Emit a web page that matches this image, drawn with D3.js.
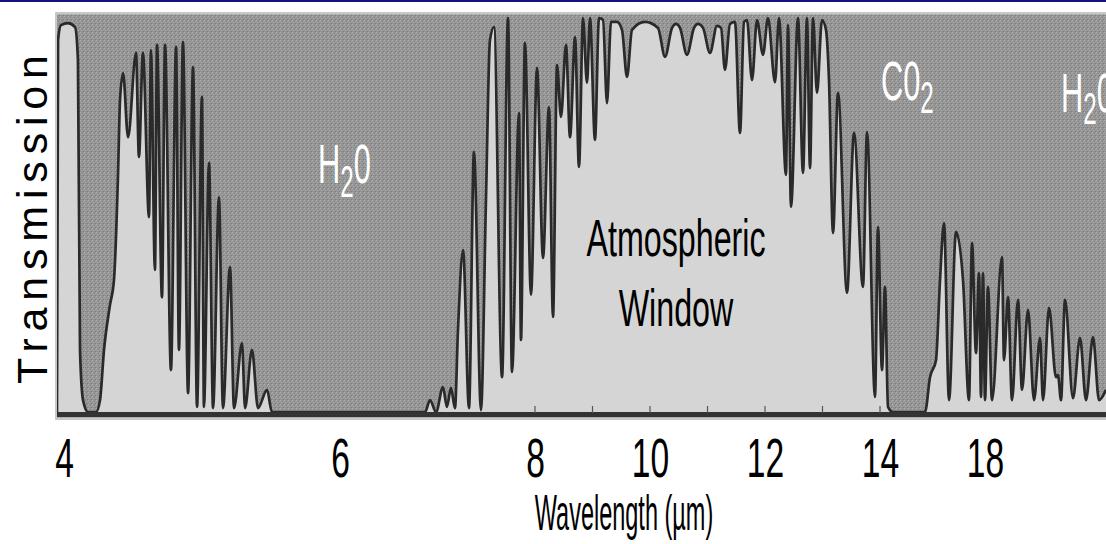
<!DOCTYPE html>
<html>
<head>
<meta charset="utf-8">
<script src="https://cdn.jsdelivr.net/npm/d3@7"></script>
<style>
  body { margin: 0; background: #fff; }
  svg { display: block; }
</style>
</head>
<body>
<div id="chart"></div>
<script>
// spectrum: wavelength (µm) and transmission (%)
const wavelength = [
  3.949, 3.957, 3.978, 4.029, 4.080, 4.101, 4.116, 4.138, 4.174, 4.232,
  4.261, 4.290, 4.333, 4.362, 4.391, 4.406, 4.428, 4.464, 4.522, 4.543,
  4.572, 4.616, 4.630, 4.659, 4.674, 4.710, 4.732, 4.775, 4.812, 4.833,
  4.862, 4.899, 4.935, 4.964, 5.000, 5.014, 5.051, 5.080, 5.123, 5.152,
  5.203, 5.232, 5.290, 5.312, 5.362, 5.406, 5.471, 5.507, 6.872, 6.923,
  6.985, 7.056, 7.097, 7.138, 7.179, 7.210, 7.262, 7.323, 7.374, 7.446,
  7.497, 7.538, 7.579, 7.662, 7.723, 7.764, 7.836, 7.856, 7.897, 7.959,
  8.035, 8.139, 8.243, 8.313, 8.383, 8.452, 8.539, 8.609, 8.696, 8.765,
  8.835, 8.904, 8.957, 9.043, 9.113, 9.183, 9.252, 9.322, 9.426, 9.513,
  9.600, 9.687, 9.913, 10.139, 10.261, 10.383, 10.452, 10.522, 10.643, 10.765,
  10.835, 10.922, 11.043, 11.165, 11.235, 11.304, 11.391, 11.478, 11.565, 11.635,
  11.687, 11.774, 11.861, 11.965, 12.052, 12.174, 12.243, 12.365, 12.400, 12.452,
  12.574, 12.661, 12.730, 12.783, 12.835, 12.904, 12.991, 13.061, 13.113, 13.183,
  13.270, 13.426, 13.548, 13.704, 13.774, 13.913, 13.965, 14.076, 14.190, 14.305,
  14.495, 15.714, 15.905, 16.133, 16.286, 16.438, 16.629, 16.895, 17.162, 17.390,
  17.505, 17.657, 17.771, 17.848, 17.924, 18.0, 18.114, 18.267, 18.648, 18.724,
  18.876, 19.029, 19.257, 19.410, 19.638, 19.867, 20.095, 20.210, 20.438, 20.705,
  20.781, 20.895, 21.048, 21.352, 21.619, 21.848, 22.114, 22.343, 22.610
];
const transmission = [
  0, 94.4, 98.2, 98.7, 97.7, 89.4, 16.2, 3.5, 0.5, 0.5,
  3.5, 16.2, 27.5, 33.8, 59.8, 79.3, 86.1, 69.9, 91.2, 64.9,
  91.2, 49.7, 91.9, 36.4, 93.2, 29.5, 93.2, 11.1, 92.7, 16.2,
  93.9, 5.3, 87.6, 1.8, 80.1, 1.8, 63.4, 1.5, 54.8, 1.5,
  37.1, 1.5, 17.9, 1.5, 16.2, 1.5, 6.1, 0.5, 0.5, 3.5,
  0.5, 6.8, 1.8, 6.6, 1.5, 21.2, 41.4, 1.5, 66.2, 1.0,
  54, 94.4, 97.7, 9.3, 100, 10.6, 76, 18.7, 93.7, 30.1,
  87.4, 39.4, 77.5, 24.5, 88.1, 75, 93.2, 69.9, 95.2, 62.4,
  100, 83.6, 100, 69.2, 100, 99.5, 78.5, 99, 99, 97,
  85.1, 97, 99, 97.5, 90.2, 97.5, 98.5, 97.5, 90.7, 97.5,
  98.5, 97.5, 91.2, 98, 97.5, 86.9, 98.5, 99, 71, 99,
  99.5, 84.3, 99.5, 90.7, 100, 83.8, 100, 60.4, 98.2, 52.3,
  100, 60.9, 100, 62.1, 100, 81.1, 99.5, 97, 84.3, 45.7,
  81.1, 30.6, 71, 32.1, 71.2, 4.3, 47.2, 11.1, 32.1, 1.8,
  0.5, 0.5, 9.3, 13.6, 33.8, 48.2, 3.5, 46, 33.8, 3.5,
  43.2, 15.4, 35.6, 4.3, 35.6, 3.5, 32.1, 3.5, 39.6, 13.6,
  29.5, 3.5, 28.8, 6.1, 26.3, 3.5, 19.2, 3.5, 26.8, 9.3,
  9.8, 3.5, 28.8, 4, 19.2, 3.5, 19.4, 3.5, 6.1
];
const tickValues = [4, 6, 8, 10, 12, 14, 18];
const minorTicks = [8, 9, 10, 11, 12, 13, 14];

const data = wavelength.map((w, i) => ({ w: w, t: transmission[i] }));

const width = 1106, height = 544;
const font = "'Liberation Sans', Arial, sans-serif";

const svg = d3.select("#chart")
  .append("svg")
  .attr("width", width)
  .attr("height", height);

// the wavelength axis of the original is not linear, so a piecewise scale
const x = d3.scaleLinear()
  .domain(tickValues)
  .range([64, 340, 535, 650, 765, 880, 985]);

const y = d3.scaleLinear()
  .domain([0, 100])
  .range([414, 18]);

// grainy halftone texture for the absorbed part
const defs = svg.append("defs");
const grain = defs.append("pattern")
  .attr("id", "grain")
  .attr("patternUnits", "userSpaceOnUse")
  .attr("width", 4)
  .attr("height", 4);
grain.append("rect").attr("width", 4).attr("height", 4).attr("fill", "#969696");
[[0, 0, "#b0b0b0"], [2, 1, "#7e7e7e"], [1, 2, "#a8a8a8"], [3, 3, "#7a7a7a"], [3, 1, "#a4a4a4"], [1, 3, "#8a8a8a"], [2, 2, "#a0a0a0"]]
  .forEach(p => grain.append("rect")
    .attr("x", p[0]).attr("y", p[1])
    .attr("width", 1).attr("height", 1)
    .attr("fill", p[2]));

defs.append("clipPath").attr("id", "plotClip")
  .append("rect")
  .attr("x", 57).attr("y", 14)
  .attr("width", width - 57).attr("height", 404);

// navy rule across the top
svg.append("rect")
  .attr("x", 0).attr("y", 0)
  .attr("width", width).attr("height", 2)
  .attr("fill", "#14147e");

// plot frame + background
svg.append("rect")
  .attr("x", 55).attr("y", 12)
  .attr("width", width - 55).attr("height", 408)
  .attr("fill", "#c8c8c8");
svg.append("rect")
  .attr("x", 57).attr("y", 14.5)
  .attr("width", width - 57).attr("height", 403)
  .attr("fill", "url(#grain)");

const plot = svg.append("g").attr("clip-path", "url(#plotClip)");

const area = d3.area()
  .x(d => x(d.w))
  .y0(y(0))
  .y1(d => y(d.t))
  .curve(d3.curveMonotoneX);

const line = d3.line()
  .x(d => x(d.w))
  .y(d => y(d.t))
  .curve(d3.curveMonotoneX);

plot.append("path")
  .datum(data)
  .attr("d", area)
  .attr("fill", "#d5d5d5");

plot.append("path")
  .datum(data)
  .attr("d", line)
  .attr("fill", "none")
  .attr("stroke", "#2a2a2a")
  .attr("stroke-width", 2.7)
  .attr("stroke-linejoin", "round");

// dark baseline
plot.append("line")
  .attr("x1", 57).attr("x2", width)
  .attr("y1", 414.5).attr("y2", 414.5)
  .attr("stroke", "#333")
  .attr("stroke-width", 5);

// small ticks on the baseline
plot.selectAll("line.minor")
  .data(minorTicks)
  .join("line")
  .attr("class", "minor")
  .attr("x1", d => x(d)).attr("x2", d => x(d))
  .attr("y1", 406).attr("y2", 413)
  .attr("stroke", "#555")
  .attr("stroke-width", 1.2);

// x axis labels
const gx = svg.append("g")
  .attr("transform", "translate(0,437)")
  .call(d3.axisBottom(x).tickValues(tickValues).tickSize(0).tickPadding(0).tickFormat(d3.format("d")));
gx.select(".domain").remove();
gx.attr("font-size", 56).attr("font-family", font);
gx.selectAll("text")
  .attr("fill", "#000")
  .attr("transform", "scale(0.6,1)");

// narrow-looking labels: horizontal squeeze
function label(px, py, sx, size, anchor, color) {
  return svg.append("text")
    .attr("transform", `translate(${px},${py}) scale(${sx},1)`)
    .attr("font-family", font)
    .attr("font-size", size)
    .attr("text-anchor", anchor)
    .attr("fill", color);
}

label(624, 530, 0.47, 50, "middle", "#000").text("Wavelength (µm)");

label(676, 256, 0.62, 52, "middle", "#000").text("Atmospheric");
label(676, 326, 0.62, 52, "middle", "#000").text("Window");

// y label, letter spaced
svg.append("text")
  .attr("transform", "translate(47,384) rotate(-90)")
  .attr("font-family", font)
  .attr("font-size", 43)
  .attr("textLength", 329)
  .attr("lengthAdjust", "spacing")
  .attr("fill", "#000")
  .text("Transmission");

// gas labels
function gas(px, py, main1, sub, main2, dy) {
  const t = label(px, py, 0.55, 56, "start", "#fff");
  t.append("tspan").text(main1);
  t.append("tspan").attr("font-size", 44).attr("dy", dy).text(sub);
  if (main2) t.append("tspan").attr("dy", -dy).text(main2);
}
gas(318, 183, "H", "2", "0", 14);
gas(881, 100, "C0", "2", null, 13);
gas(1061, 112, "H", "2", "0", 12);
</script>
</body>
</html>
